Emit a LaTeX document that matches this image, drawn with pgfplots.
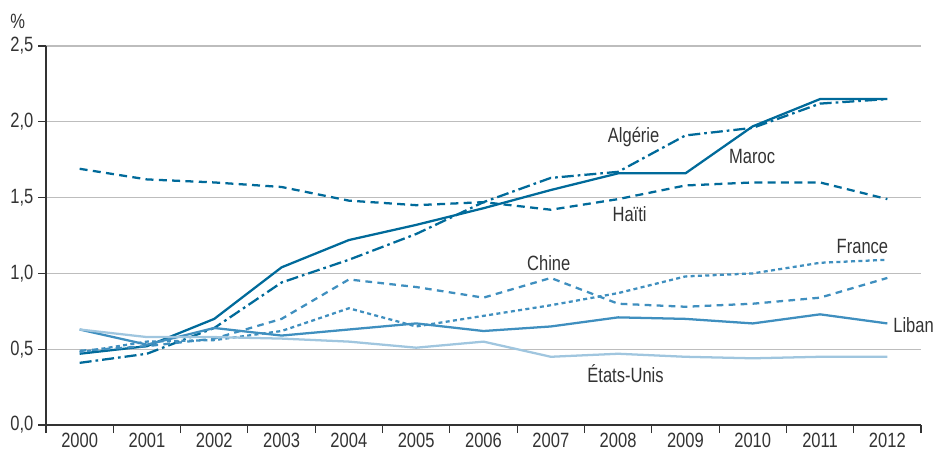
\documentclass[border=0pt]{standalone}
\usepackage{pgfplots}
\pgfplotsset{compat=1.18}
\usepackage{fontspec}
\setmainfont[FakeStretch=0.8]{Liberation Sans}
\definecolor{dkblue}{HTML}{006A9A}
\definecolor{mdblue}{HTML}{3F8FBF}
\definecolor{ltblue}{HTML}{A0C6DF}
\definecolor{gridc}{HTML}{BDBDBD}
\definecolor{axc}{HTML}{333333}
\definecolor{txt}{HTML}{333333}
\begin{document}
\begin{tikzpicture}[x=0.75pt,y=0.75pt]
\useasboundingbox (-46,-29) rectangle (892,425);
\begin{axis}[
  at={(0,0)}, anchor=south west,
  scale only axis, width=656.25pt, height=284.25pt,
  xmin=-0.5, xmax=12.5, ymin=0, ymax=2.5,
  clip=false,
  axis x line=bottom, axis y line=left,
  axis line style={-, axc, line width=0.8pt},
  xtick={0,...,12},
  xticklabels={2000,2001,2002,2003,2004,2005,2006,2007,2008,2009,2010,2011,2012},
  major x tick style={draw=none},
  extra x ticks={-0.5,0.5,...,12.5},
  extra x tick labels={},
  extra x tick style={major tick length=6pt, tick align=outside, major x tick style={draw=axc, line width=0.8pt}, grid=none},
  ytick={0,0.5,...,2.5},
  ymajorgrids, grid style={gridc, line width=1pt},
  major y tick style={axc, line width=0.8pt},
  tick align=outside, major tick length=6pt,
  yticklabel style={/pgf/number format/.cd, fixed, fixed zerofill, precision=1, use comma, assume math mode=true},
  ticklabel style={font=\fontsize{15.5}{16}\selectfont, text=txt},
  xticklabel style={yshift=1.5pt, inner sep=1pt},
  every axis plot/.append style={line width=1.7pt, line join=round},
]
% Maroc
\addplot[dkblue] coordinates {(0,0.47)(1,0.52)(2,0.70)(3,1.04)(4,1.22)(5,1.32)(6,1.43)(7,1.55)(8,1.66)(9,1.66)(10,1.97)(11,2.15)(12,2.15)};
% Algerie
\addplot[dkblue, dash pattern=on 9pt off 3pt on 2pt off 3pt] coordinates {(0,0.41)(1,0.47)(2,0.64)(3,0.94)(4,1.09)(5,1.26)(6,1.47)(7,1.63)(8,1.67)(9,1.91)(10,1.96)(11,2.12)(12,2.15)};
% Haiti
\addplot[dkblue, dash pattern=on 6pt off 4pt] coordinates {(0,1.69)(1,1.62)(2,1.60)(3,1.57)(4,1.48)(5,1.45)(6,1.47)(7,1.42)(8,1.49)(9,1.58)(10,1.60)(11,1.60)(12,1.49)};
% Chine
\addplot[mdblue, dash pattern=on 5pt off 4pt] coordinates {(0,0.49)(1,0.52)(2,0.57)(3,0.70)(4,0.96)(5,0.91)(6,0.84)(7,0.97)(8,0.80)(9,0.78)(10,0.80)(11,0.84)(12,0.97)};
% France
\addplot[mdblue, dash pattern=on 3pt off 2.5pt] coordinates {(0,0.48)(1,0.55)(2,0.56)(3,0.62)(4,0.77)(5,0.65)(6,0.72)(7,0.79)(8,0.87)(9,0.98)(10,1.00)(11,1.07)(12,1.09)};
% Liban
\addplot[mdblue] coordinates {(0,0.63)(1,0.53)(2,0.64)(3,0.59)(4,0.63)(5,0.67)(6,0.62)(7,0.65)(8,0.71)(9,0.70)(10,0.67)(11,0.73)(12,0.67)};
% Etats-Unis
\addplot[ltblue] coordinates {(0,0.63)(1,0.58)(2,0.58)(3,0.57)(4,0.55)(5,0.51)(6,0.55)(7,0.45)(8,0.47)(9,0.45)(10,0.44)(11,0.45)(12,0.45)};
\begin{scope}[every node/.style={font=\fontsize{15.5}{16}\selectfont, text=txt, inner sep=0pt}]
\node at (axis cs:8.23,1.90) {Algérie};
\node at (axis cs:9.99,1.77) {Maroc};
\node at (axis cs:8.17,1.39) {Haïti};
\node at (axis cs:6.97,1.07) {Chine};
\node at (axis cs:11.63,1.18) {France};
\node at (axis cs:12.39,0.66) {Liban};
\node at (axis cs:8.11,0.34) {États-Unis};
\node at (axis cs:-0.92,2.66) {\%};
\end{scope}
\end{axis}
\end{tikzpicture}
\end{document}
